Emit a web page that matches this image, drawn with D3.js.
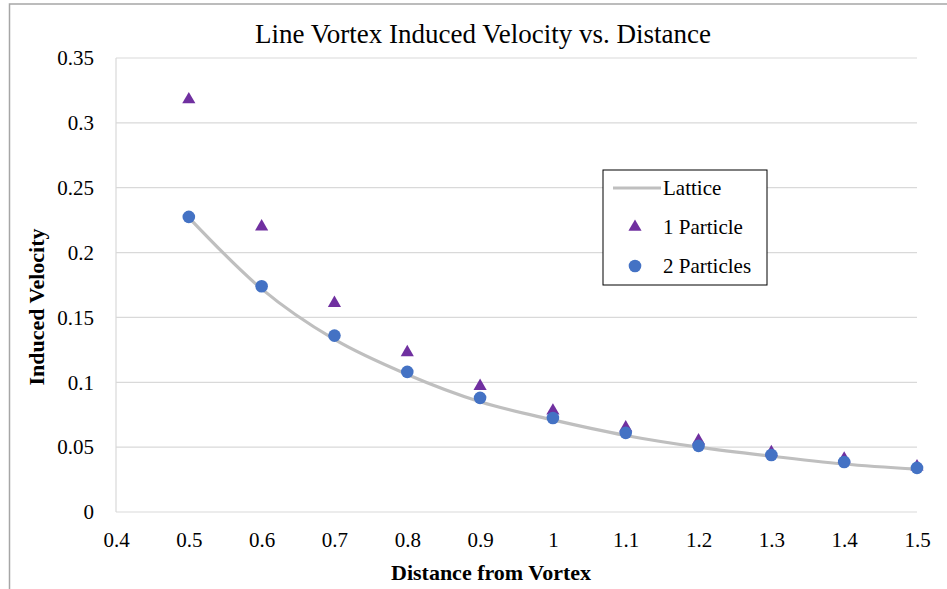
<!DOCTYPE html>
<html>
<head>
<meta charset="utf-8">
<script src="https://cdn.jsdelivr.net/npm/d3@7"></script>
<style>
  body { margin: 0; background: #fff; }
  svg { display: block; }
  svg text { font-family: "Liberation Serif", "Times New Roman", serif; fill: #000; }
</style>
</head>
<body>
<div id="chart"></div>
<script>
/* LINE VORTEX DATA */

var distances = [0.5, 0.6, 0.7, 0.8, 0.9, 1.0, 1.1, 1.2, 1.3, 1.4, 1.5];
var lattice = [0.227, 0.172, 0.133, 0.106, 0.085, 0.071, 0.059, 0.050, 0.043, 0.037, 0.033];
var oneParticle = [0.318, 0.220, 0.161, 0.123, 0.097, 0.078, 0.065, 0.055, 0.046, 0.041, 0.035];
var twoParticles = [0.2275, 0.174, 0.136, 0.108, 0.088, 0.0725, 0.061, 0.051, 0.044, 0.0386, 0.034];
var xTicks = [0.4, 0.5, 0.6, 0.7, 0.8, 0.9, 1, 1.1, 1.2, 1.3, 1.4, 1.5];
var yTicks = [0, 0.05, 0.1, 0.15, 0.2, 0.25, 0.3, 0.35];

function drawChart(){

  var w = 947;
  var h = 589;
  var left = 116, right = 917, top = 58, bottom = 512;

  var svg = d3.select("#chart").append("svg")
              .attr("width", w)
              .attr("height", h);

  // outer chart frame (cropped on right and bottom)
  svg.append("rect")
     .attr("x", 9.5).attr("y", 4)
     .attr("width", 1200).attr("height", 1200)
     .attr("fill", "none")
     .attr("stroke", "#a6a6a6")
     .attr("stroke-width", 1.5);

  var x = d3.scaleLinear().domain([0.4, 1.5]).range([left, right]);
  var y = d3.scaleLinear().domain([0, 0.35]).range([bottom, top]);

  // gridlines
  svg.append("g")
     .selectAll("line")
     .data(yTicks)
     .enter().append("line")
     .attr("x1", left).attr("x2", right)
     .attr("y1", function(d){ return y(d); })
     .attr("y2", function(d){ return y(d); })
     .attr("stroke", "#d9d9d9")
     .attr("stroke-width", 1.2);

  svg.append("line")
     .attr("x1", left).attr("x2", left)
     .attr("y1", top).attr("y2", bottom)
     .attr("stroke", "#d9d9d9")
     .attr("stroke-width", 1.2);

  // axes
  var xAxis = d3.axisBottom(x).tickValues(xTicks).tickSize(0).tickPadding(20)
                .tickFormat(function(d){ return String(+d.toFixed(2)); });
  var gx = svg.append("g")
              .attr("transform", "translate(0," + bottom + ")")
              .call(xAxis)
              .attr("font-size", 21);
  gx.select(".domain").remove();

  var yAxis = d3.axisLeft(y).tickValues(yTicks).tickSize(0).tickPadding(22)
                .tickFormat(function(d){ return String(+d.toFixed(2)); });
  var gy = svg.append("g")
              .attr("transform", "translate(" + left + ",0)")
              .call(yAxis)
              .attr("font-size", 21);
  gy.select(".domain").remove();

  // lattice curve
  var line = d3.line()
               .x(function(d, i){ return x(distances[i]); })
               .y(function(d){ return y(d); })
               .curve(d3.curveMonotoneX);

  svg.append("path")
     .datum(lattice)
     .attr("d", line)
     .attr("fill", "none")
     .attr("stroke", "#bfbfbf")
     .attr("stroke-width", 3.2)
     .attr("stroke-linecap", "round");

  // 1 particle triangles
  var tri = d3.symbol().type(d3.symbolTriangle).size(75);
  svg.append("g")
     .selectAll("path")
     .data(oneParticle)
     .enter().append("path")
     .attr("d", tri)
     .attr("transform", function(d, i){ return "translate(" + x(distances[i]) + "," + y(d) + ")"; })
     .attr("fill", "#7030a0");

  // 2 particles circles
  svg.append("g")
     .selectAll("circle")
     .data(twoParticles)
     .enter().append("circle")
     .attr("cx", function(d, i){ return x(distances[i]); })
     .attr("cy", function(d){ return y(d); })
     .attr("r", 6.3)
     .attr("fill", "#4472c4");

  // title
  svg.append("text")
     .attr("x", 483).attr("y", 43)
     .attr("text-anchor", "middle")
     .attr("font-size", 27)
     .text("Line Vortex Induced Velocity vs. Distance");

  // axis titles
  svg.append("text")
     .attr("x", 491).attr("y", 580)
     .attr("text-anchor", "middle")
     .attr("font-size", 22)
     .attr("font-weight", "bold")
     .text("Distance from Vortex");

  svg.append("text")
     .attr("transform", "translate(44,307) rotate(-90)")
     .attr("text-anchor", "middle")
     .attr("font-size", 22)
     .attr("font-weight", "bold")
     .text("Induced Velocity");

  // legend
  var legend = svg.append("g").attr("transform", "translate(603,170)");
  legend.append("rect")
        .attr("width", 164).attr("height", 115)
        .attr("fill", "#fff")
        .attr("stroke", "#000")
        .attr("stroke-width", 1);

  legend.append("line")
        .attr("x1", 10).attr("x2", 58)
        .attr("y1", 18).attr("y2", 18)
        .attr("stroke", "#bfbfbf")
        .attr("stroke-width", 3.2);
  legend.append("path")
        .attr("d", tri)
        .attr("transform", "translate(32,57)")
        .attr("fill", "#7030a0");
  legend.append("circle")
        .attr("cx", 32).attr("cy", 96).attr("r", 6.3)
        .attr("fill", "#4472c4");

  var labels = ["Lattice", "1 Particle", "2 Particles"];
  legend.selectAll("text.lbl")
        .data(labels)
        .enter().append("text")
        .attr("class", "lbl")
        .attr("x", 60)
        .attr("y", function(d, i){ return 25 + i * 39; })
        .attr("font-size", 21)
        .text(function(d){ return d; });

};

drawChart();
</script>
</body>
</html>
